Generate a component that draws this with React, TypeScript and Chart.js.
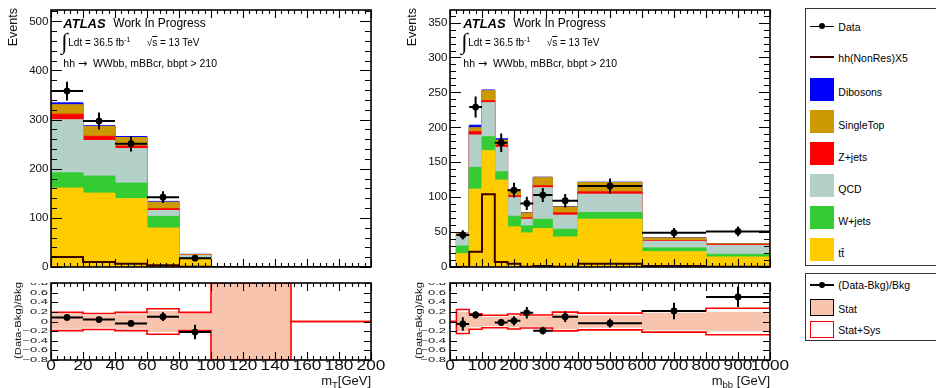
import React, { useEffect, useRef } from "react";
import { Chart, registerables } from "chart.js";

Chart.register(...registerables);

const FONT = "'Liberation Sans', Arial, Helvetica, sans-serif";

/* ---------------- m_T panel (left) ---------------- */
const MT_EDGES = [0, 20, 40, 60, 80, 100, 150, 200];
const MT_TTBAR = [160.6, 150.4, 139.0, 79.3, 17.0, 0, 0];
const MT_WJETS = [31.1, 34.6, 31.7, 23.7, 2.0, 0, 0];
const MT_QCD = [107.8, 72.5, 70.3, 12.0, 4.5, 0, 0];
const MT_ZJETS = [11.5, 8.5, 5.0, 3.6, 0.5, 0, 0];
const MT_SINGLETOP = [19.0, 20.0, 17.5, 13.4, 1.5, 0, 0];
const MT_DIBOSONS = [4.0, 1.5, 2.0, 1.5, 0.3, 0, 0];
const MT_SIGNAL_X5 = [20.3, 10.0, 6.8, 3.4, 0.7, 0, 0];
const MT_DATA = [358, 297, 251, 142, 18, null, null];
const MT_DATA_ERR = [19, 17.2, 15.8, 11.9, 4.2, null, null];
const MT_RATIO = [0.084, 0.04, -0.04, 0.1, -0.22, null, null];
const MT_RATIO_ERR = [0.057, 0.06, 0.06, 0.09, 0.15, null, null];
const MT_STAT = [0.15, 0.13, 0.15, 0.22, 0.17, 0.8, 0];
const MT_SYS = [0.19, 0.165, 0.19, 0.265, 0.19, 0.8, 0];
const MT_Y_TICKS = [0, 100, 200, 300, 400, 500];
const MT_X_TICKS = [0, 20, 40, 60, 80, 100, 120, 140, 160, 180, 200];
const MT_Y_MAX = 523;

/* ---------------- m_bb panel (right) ---------------- */
const MBB_EDGES = [0, 20, 60, 100, 140, 180, 220, 260, 320, 400, 600, 800, 1000];
const MBB_TTBAR = [0, 19, 111.5, 166.4, 124.4, 57.4, 48.8, 55, 43, 68.4, 22, 14.3];
const MBB_WJETS = [0, 11, 31.1, 20.1, 11.9, 15.3, 10, 13.4, 11, 9.6, 5.3, 3.9];
const MBB_QCD = [0, 15, 46.4, 48.8, 35, 26.9, 9.6, 45, 20.2, 26.3, 9.5, 12.8];
const MBB_ZJETS = [0, 1, 4.7, 2.7, 3.3, 2.3, 1.9, 2.9, 3.3, 3.3, 1, 1.5];
const MBB_SINGLETOP = [0, 2, 5.7, 14.5, 7.2, 8.1, 7.2, 12, 8.5, 13.4, 3.8, 0.8];
const MBB_DIBOSONS = [0, 0.5, 3.6, 1, 1.8, 0.5, 0.3, 0.3, 0.5, 0.5, 0.2, 0.1];
const MBB_SIGNAL_X5 = [0, 0, 22, 104, 7, 4.8, 0.3, 1.4, 0.5, 4.8, 1.5, 0.5];
const MBB_DATA = [null, 46, 229, null, 178, 110, 91, 103, 95, 116, 49, 51];
const MBB_DATA_ERR = [null, 6.8, 15.1, null, 13.3, 10.5, 9.5, 10.1, 9.7, 10.8, 7, 7.1];
const MBB_RATIO = [null, -0.05, 0.136, null, -0.02, 0.014, 0.18, -0.19, 0.1, -0.034, 0.218, 0.51];
const MBB_RATIO_ERR = [null, 0.14, 0.075, null, 0.073, 0.095, 0.12, 0.08, 0.11, 0.09, 0.17, 0.21];
const MBB_STAT = [0, 0.2, 0.12, 0.1, 0.1, 0.12, 0.11, 0.11, 0.16, 0.13, 0.18, 0.2];
const MBB_SYS = [0, 0.25, 0.16, 0.13, 0.13, 0.155, 0.135, 0.135, 0.195, 0.175, 0.22, 0.275];
const MBB_Y_TICKS = [0, 50, 100, 150, 200, 250, 300, 350];
const MBB_X_TICKS = [0, 100, 200, 300, 400, 500, 600, 700, 800, 900, 1000];
const MBB_Y_MAX = 368;

const RATIO_Y_TICKS = [-0.8, -0.6, -0.4, -0.2, 0, 0.2, 0.4, 0.6, 0.8];

const LEGEND_LABELS = ["Data", "hh(NonRes)X5", "Dibosons", "SingleTop", "Z+jets", "QCD", "W+jets", "tt\u0304"];
const RATIO_LEGEND_LABELS = ["(Data-Bkg)/Bkg", "Stat", "Stat+Sys"];

/* ---------------- colours ---------------- */
const C_TTBAR = "#ffcc00";
const C_WJETS = "#33cc33";
const C_QCD = "#b3d1c9";
const C_ZJETS = "#ff0000";
const C_SINGLETOP = "#cc9900";
const C_DIBOSONS = "#0000ff";
const C_SIGNAL = "#3a0000";
const C_STAT = "#f9c4ad";
const C_SYS = "#ff0000";
const STACK_COLORS = [C_TTBAR, C_WJETS, C_QCD, C_ZJETS, C_SINGLETOP, C_DIBOSONS];

/* ---------------- helpers ---------------- */
type Num = number | null;

function histPoints(edges: number[], values: number[]) {
  const pts = values.map((v, i) => ({ x: edges[i], y: v }));
  pts.push({ x: edges[edges.length - 1], y: values[values.length - 1] });
  return pts;
}
function stackTops(components: number[][]) {
  const tops: number[][] = [];
  let acc = components[0].map(() => 0);
  for (const c of components) {
    acc = acc.map((a, i) => a + c[i]);
    tops.push(acc.slice());
  }
  return tops;
}
function centers(edges: number[]) {
  return edges.slice(0, -1).map((e, i) => (e + edges[i + 1]) / 2);
}
function points(edges: number[], values: Num[]) {
  const c = centers(edges);
  const out: { x: number; y: number }[] = [];
  values.forEach((v, i) => {
    if (v !== null) out.push({ x: c[i], y: v });
  });
  return out;
}

type TickSpec = { major: number[]; minorStep: number; majorLen: number; minorLen: number };
type LabelSpec = { values: number[]; fmt: (v: number) => string; size: number; sx: number; sy: number; gap: number; clipTop?: boolean };
type PanelStyle = {
  x: TickSpec;
  y: TickSpec;
  yLabels: LabelSpec;
  xLabels?: LabelSpec;
  yTitle: { text: string; cx: number; endY: number; size: number; stretch: number };
  xTitle?: { main: string; sub: string; rest: string; size: number; subSize: number; below: number };
  errors: { datasetIndex: number; edges: number[]; values: Num[]; errs: Num[] };
};

function tickList(spec: TickSpec, min: number, max: number) {
  const out: { v: number; major: boolean }[] = [];
  if (!spec.minorStep) {
    spec.major.forEach((v) => out.push({ v, major: true }));
    return out;
  }
  const start = spec.major[0];
  const step = spec.minorStep;
  const nDown = Math.floor((start - min) / step + 1e-6);
  const nUp = Math.floor((max - start) / step + 1e-6);
  for (let k = -nDown; k <= nUp; k++) {
    const v = start + k * step;
    out.push({ v, major: spec.major.some((m) => Math.abs(m - v) < step * 1e-3) });
  }
  return out;
}

function rootPlugin(style: PanelStyle) {
  return {
    id: "rootStyle",
    beforeDatasetDraw(chart: any, args: any) {
      const e = style.errors;
      if (args.index !== e.datasetIndex) return;
      const ctx = chart.ctx;
      const xs = chart.scales.x;
      const ys = chart.scales.y;
      const a = chart.chartArea;
      ctx.save();
      ctx.beginPath();
      ctx.rect(a.left, a.top, a.right - a.left, a.bottom - a.top);
      ctx.clip();
      ctx.strokeStyle = "#000";
      ctx.lineWidth = 2;
      e.values.forEach((v, i) => {
        const err = e.errs[i];
        if (v === null || err === null) return;
        const x0 = xs.getPixelForValue(e.edges[i]);
        const x1 = xs.getPixelForValue(e.edges[i + 1]);
        const xc = xs.getPixelForValue((e.edges[i] + e.edges[i + 1]) / 2);
        const y = ys.getPixelForValue(v);
        ctx.beginPath();
        ctx.moveTo(x0, y);
        ctx.lineTo(x1, y);
        ctx.moveTo(xc, ys.getPixelForValue(v - err));
        ctx.lineTo(xc, ys.getPixelForValue(v + err));
        ctx.stroke();
      });
      ctx.restore();
    },
    afterDraw(chart: any) {
      const ctx = chart.ctx;
      const xs = chart.scales.x;
      const ys = chart.scales.y;
      const a = chart.chartArea;
      ctx.save();
      // frame
      ctx.strokeStyle = "#000";
      ctx.lineWidth = 1.6;
      ctx.strokeRect(a.left, a.top, a.right - a.left, a.bottom - a.top);
      // ticks
      ctx.lineWidth = 1.1;
      ctx.beginPath();
      tickList(style.y, ys.min, ys.max).forEach(({ v, major }) => {
        const p = Math.round(ys.getPixelForValue(v)) + 0.5;
        const len = major ? style.y.majorLen : style.y.minorLen;
        ctx.moveTo(a.left, p);
        ctx.lineTo(a.left + len, p);
        ctx.moveTo(a.right, p);
        ctx.lineTo(a.right - len, p);
      });
      tickList(style.x, xs.min, xs.max).forEach(({ v, major }) => {
        const p = Math.round(xs.getPixelForValue(v)) + 0.5;
        const len = major ? style.x.majorLen : style.x.minorLen;
        ctx.moveTo(p, a.bottom);
        ctx.lineTo(p, a.bottom - len);
        ctx.moveTo(p, a.top);
        ctx.lineTo(p, a.top + len);
      });
      ctx.stroke();
      ctx.fillStyle = "#111";
      // y labels
      const yl = style.yLabels;
      ctx.save();
      if (yl.clipTop) {
        ctx.beginPath();
        ctx.rect(0, a.top, a.left, chart.height - a.top);
        ctx.clip();
      }
      ctx.font = `${yl.size}px ${FONT}`;
      ctx.textAlign = "right";
      ctx.textBaseline = "middle";
      yl.values.forEach((v) => {
        ctx.save();
        ctx.translate(a.left - yl.gap, ys.getPixelForValue(v));
        ctx.scale(yl.sx, yl.sy);
        ctx.fillText(yl.fmt(v), 0, 0);
        ctx.restore();
      });
      ctx.restore();
      // x labels
      const xl = style.xLabels;
      if (xl) {
        ctx.font = `${xl.size}px ${FONT}`;
        ctx.textAlign = "center";
        ctx.textBaseline = "middle";
        xl.values.forEach((v) => {
          ctx.save();
          ctx.translate(xs.getPixelForValue(v), a.bottom + xl.gap);
          ctx.scale(xl.sx, xl.sy);
          ctx.fillText(xl.fmt(v), 0, 0);
          ctx.restore();
        });
      }
      // y title
      const yt = style.yTitle;
      ctx.save();
      ctx.translate(yt.cx, yt.endY);
      ctx.rotate(-Math.PI / 2);
      ctx.scale(yt.stretch, 1);
      ctx.font = `${yt.size}px ${FONT}`;
      ctx.textAlign = "right";
      ctx.textBaseline = "middle";
      ctx.fillText(yt.text, 0, 0);
      ctx.restore();
      // x title
      const xt = style.xTitle;
      if (xt) {
        const base = a.bottom + xt.below;
        ctx.textBaseline = "alphabetic";
        ctx.textAlign = "right";
        ctx.font = `${xt.size}px ${FONT}`;
        let x = a.right;
        ctx.fillText(xt.rest, x, base);
        x -= ctx.measureText(xt.rest).width;
        ctx.font = `${xt.subSize}px ${FONT}`;
        ctx.fillText(xt.sub, x, base + 3);
        x -= ctx.measureText(xt.sub).width;
        ctx.font = `${xt.size}px ${FONT}`;
        ctx.fillText(xt.main, x, base);
      }
      ctx.restore();
    },
  };
}

const baseOptions = (xmax: number, ymin: number, ymax: number, padding: any) => ({
  animation: false,
  responsive: false,
  events: [],
  layout: { padding },
  scales: {
    x: { type: "linear", min: 0, max: xmax, display: false },
    y: { type: "linear", min: ymin, max: ymax, display: false },
  },
  plugins: { legend: { display: false }, tooltip: { enabled: false } },
});

type MainSpec = {
  edges: number[];
  comps: number[][];
  signal: number[];
  data: Num[];
  dataErr: Num[];
  xmax: number;
  ymax: number;
  padding: any;
  style: Omit<PanelStyle, "errors">;
};

function buildMain(canvas: HTMLCanvasElement, s: MainSpec) {
  const tops = stackTops(s.comps);
  const datasets: any[] = tops.map((t, i) => ({
    data: histPoints(s.edges, t),
    stepped: true,
    fill: i === 0 ? "origin" : "-1",
    backgroundColor: STACK_COLORS[i],
    borderColor: STACK_COLORS[i],
    borderWidth: 1,
    pointRadius: 0,
    order: 2,
  }));
  datasets.push({
    data: histPoints(s.edges, s.signal),
    stepped: true,
    fill: false,
    borderColor: C_SIGNAL,
    borderWidth: 2,
    pointRadius: 0,
    order: 1,
  });
  datasets.push({
    data: points(s.edges, s.data),
    showLine: false,
    pointRadius: 3.4,
    pointBackgroundColor: "#000",
    pointBorderColor: "#000",
    pointBorderWidth: 0,
    order: 0,
  });
  const style: PanelStyle = {
    ...s.style,
    errors: { datasetIndex: datasets.length - 1, edges: s.edges, values: s.data, errs: s.dataErr },
  };
  return new Chart(canvas, {
    type: "line",
    data: { datasets },
    options: baseOptions(s.xmax, 0, s.ymax, s.padding) as any,
    plugins: [rootPlugin(style) as any],
  });
}

type RatioSpec = {
  edges: number[];
  ratio: Num[];
  ratioErr: Num[];
  stat: number[];
  sys: number[];
  xmax: number;
  padding: any;
  style: Omit<PanelStyle, "errors">;
};

function buildRatio(canvas: HTMLCanvasElement, s: RatioSpec) {
  const clear = "rgba(0,0,0,0)";
  const datasets: any[] = [
    { data: histPoints(s.edges, s.stat.map((v) => -v)), stepped: true, fill: false, borderColor: clear, borderWidth: 1, pointRadius: 0, order: 4 },
    { data: histPoints(s.edges, s.stat), stepped: true, fill: "-1", backgroundColor: C_STAT, borderColor: clear, borderWidth: 1, pointRadius: 0, order: 3 },
    { data: histPoints(s.edges, s.sys), stepped: true, fill: false, borderColor: C_SYS, borderWidth: 1.6, pointRadius: 0, order: 2 },
    { data: histPoints(s.edges, s.sys.map((v) => -v)), stepped: true, fill: false, borderColor: C_SYS, borderWidth: 1.6, pointRadius: 0, order: 2 },
    { data: points(s.edges, s.ratio), showLine: false, pointRadius: 3.4, pointBackgroundColor: "#000", pointBorderColor: "#000", pointBorderWidth: 0, order: 0 },
  ];
  const style: PanelStyle = {
    ...s.style,
    errors: { datasetIndex: 4, edges: s.edges, values: s.ratio, errs: s.ratioErr },
  };
  return new Chart(canvas, {
    type: "line",
    data: { datasets },
    options: baseOptions(s.xmax, -0.8, 0.8, s.padding) as any,
    plugins: [rootPlugin(style) as any],
  });
}

const intFmt = (v: number) => String(v);
const ratioFmt = (v: number) => (Math.abs(v) < 1e-9 ? "0" : (v < 0 ? "\u2212" : "") + Math.abs(v).toFixed(1));

function ChartBox(props: { left: number; top: number; width: number; height: number; build: (c: HTMLCanvasElement) => Chart }) {
  const ref = useRef<HTMLCanvasElement>(null);
  useEffect(() => {
    const chart = props.build(ref.current as HTMLCanvasElement);
    return () => chart.destroy();
  }, []);
  return (
    <canvas
      ref={ref}
      width={props.width}
      height={props.height}
      style={{ position: "absolute", left: props.left, top: props.top, width: props.width, height: props.height }}
    />
  );
}

function AtlasLabel({ x }: { x: number }) {
  const abs = (l: number, t: number, extra: any) => ({ position: "absolute" as const, left: l, top: t, whiteSpace: "pre" as const, fontFamily: FONT, color: "#000", ...extra });
  return (
    <>
      <div style={abs(x, 16.5, { fontSize: 13, lineHeight: "13px", fontWeight: "bold", fontStyle: "italic" })}>ATLAS</div>
      <div style={abs(x + 50, 16.8, { fontSize: 12, lineHeight: "12px" })}>Work In Progress</div>
      <div style={abs(x - 2, 29, { fontSize: 23, lineHeight: "25px", fontFamily: "'Liberation Serif', 'DejaVu Serif', serif" })}>{"\u222B"}</div>
      <div style={abs(x + 5, 38, { fontSize: 10, lineHeight: "10px" })}>
        Ldt = 36.5 fb<span style={{ fontSize: 7, position: "relative", top: -4 }}>-1</span>
      </div>
      <div style={abs(x + 83.4, 38, { fontSize: 10, lineHeight: "10px" })}>
        {"\u221A"}
        <span style={{ textDecoration: "overline" }}>s</span> = 13 TeV
      </div>
      <div style={abs(x, 58.2, { fontSize: 10.5, lineHeight: "10.5px" })}>
        {"hh "}
        <span style={{ fontFamily: "'DejaVu Sans', sans-serif", fontSize: 11 }}>{"\u2192"}</span>
        {"  WWbb, mBBcr, bbpt > 210"}
      </div>
    </>
  );
}

function Legend() {
  const SW_X = 809.7;
  const TXT_X = 838.3;
  const rowY = (i: number) => (i === 0 ? 26.3 : 24.8 + 32.15 * i);
  const text = (label: string, cy: number) => (
    <div key={"t" + label} style={{ position: "absolute", left: TXT_X, top: cy - 5.2, fontSize: 10.5, lineHeight: "10.5px", fontFamily: FONT, whiteSpace: "pre", color: "#000" }}>
      {label}
    </div>
  );
  const marker = (cy: number, key: string) => (
    <React.Fragment key={key}>
      <div style={{ position: "absolute", left: SW_X, top: cy - 0.75, width: 24, height: 1.5, background: "#000" }} />
      <div style={{ position: "absolute", left: SW_X + 9, top: cy - 3, width: 6, height: 6, borderRadius: 3, background: "#000" }} />
    </React.Fragment>
  );
  const legendColors = [null, C_SIGNAL, C_DIBOSONS, C_SINGLETOP, C_ZJETS, C_QCD, C_WJETS, C_TTBAR];
  const items: any[] = [];
  LEGEND_LABELS.forEach((label, i) => {
    const cy = rowY(i);
    if (i === 0) {
      items.push(marker(cy, "m0"));
      items.push(text(label, cy + 1));
    } else if (i === 1) {
      items.push(<div key="sig" style={{ position: "absolute", left: SW_X, top: cy - 0.75, width: 24, height: 1.5, background: legendColors[i] as string }} />);
      items.push(text(label, cy + 1));
    } else {
      items.push(<div key={"b" + i} style={{ position: "absolute", left: SW_X, top: cy - 11.5, width: 24.6, height: 23, background: legendColors[i] as string }} />);
      items.push(text(label, cy + 3.5));
    }
  });
  const r0 = 285;
  const r1 = 307.7;
  const r2 = 329.3;
  return (
    <>
      <div style={{ position: "absolute", left: 805, top: 8.3, width: 150, height: 257.4, border: "1px solid #333", boxSizing: "border-box" }} />
      {items}
      <div style={{ position: "absolute", left: 805, top: 272.7, width: 150, height: 68, border: "1px solid #333", boxSizing: "border-box" }} />
      {marker(r0, "m1")}
      {text(RATIO_LEGEND_LABELS[0], r0 + 0.5)}
      <div style={{ position: "absolute", left: SW_X, top: r1 - 8.3, width: 24.6, height: 16.6, background: C_STAT, border: "1.5px solid #000", boxSizing: "border-box" }} />
      {text(RATIO_LEGEND_LABELS[1], r1 + 1)}
      <div style={{ position: "absolute", left: SW_X, top: r2 - 8.3, width: 24.6, height: 16.6, background: "#fff", border: "1.5px solid " + C_SYS, boxSizing: "border-box" }} />
      {text(RATIO_LEGEND_LABELS[2], r2 + 1)}
    </>
  );
}

export default function App() {
  const mainLeft = (c: HTMLCanvasElement) =>
    buildMain(c, {
      edges: MT_EDGES,
      comps: [MT_TTBAR, MT_WJETS, MT_QCD, MT_ZJETS, MT_SINGLETOP, MT_DIBOSONS],
      signal: MT_SIGNAL_X5,
      data: MT_DATA,
      dataErr: MT_DATA_ERR,
      xmax: 200,
      ymax: MT_Y_MAX,
      padding: { left: 51, right: 19, top: 10, bottom: 12 },
      style: {
        x: { major: MT_X_TICKS, minorStep: 4, majorLen: 8, minorLen: 4 },
        y: { major: MT_Y_TICKS, minorStep: 20, majorLen: 11, minorLen: 6 },
        yLabels: { values: MT_Y_TICKS, fmt: intFmt, size: 11.6, sx: 1, sy: 1, gap: 2.5 },
        yTitle: { text: "Events", cx: 13.5, endY: 8, size: 12.5, stretch: 1 },
      },
    });
  const mainRight = (c: HTMLCanvasElement) =>
    buildMain(c, {
      edges: MBB_EDGES,
      comps: [MBB_TTBAR, MBB_WJETS, MBB_QCD, MBB_ZJETS, MBB_SINGLETOP, MBB_DIBOSONS],
      signal: MBB_SIGNAL_X5,
      data: MBB_DATA,
      dataErr: MBB_DATA_ERR,
      xmax: 1000,
      ymax: MBB_Y_MAX,
      padding: { left: 70, right: 30, top: 10, bottom: 12 },
      style: {
        x: { major: MBB_X_TICKS, minorStep: 20, majorLen: 8, minorLen: 4 },
        y: { major: MBB_Y_TICKS, minorStep: 10, majorLen: 11, minorLen: 6 },
        yLabels: { values: MBB_Y_TICKS, fmt: intFmt, size: 11.6, sx: 1, sy: 1, gap: 2.5 },
        yTitle: { text: "Events", cx: 33, endY: 8, size: 12.5, stretch: 1 },
      },
    });
  const ratioLeft = (c: HTMLCanvasElement) =>
    buildRatio(c, {
      edges: MT_EDGES,
      ratio: MT_RATIO,
      ratioErr: MT_RATIO_ERR,
      stat: MT_STAT,
      sys: MT_SYS,
      xmax: 200,
      padding: { left: 51, right: 19, top: 2, bottom: 28 },
      style: {
        x: { major: MT_X_TICKS, minorStep: 4, majorLen: 8, minorLen: 4 },
        y: { major: RATIO_Y_TICKS, minorStep: 0, majorLen: 7, minorLen: 4 },
        yLabels: { values: RATIO_Y_TICKS, fmt: ratioFmt, size: 13, sx: 1, sy: 0.56, gap: 3, clipTop: true },
        xLabels: { values: MT_X_TICKS, fmt: intFmt, size: 15, sx: 1.15, sy: 1, gap: 6.3 },
        yTitle: { text: "(Data-Bkg)/Bkg", cx: 19, endY: 3, size: 9, stretch: 1.25 },
        xTitle: { main: "m", sub: "T", rest: "[GeV]", size: 13, subSize: 9.5, below: 25 },
      },
    });
  const ratioRight = (c: HTMLCanvasElement) =>
    buildRatio(c, {
      edges: MBB_EDGES,
      ratio: MBB_RATIO,
      ratioErr: MBB_RATIO_ERR,
      stat: MBB_STAT,
      sys: MBB_SYS,
      xmax: 1000,
      padding: { left: 70, right: 30, top: 2, bottom: 28 },
      style: {
        x: { major: MBB_X_TICKS, minorStep: 20, majorLen: 8, minorLen: 4 },
        y: { major: RATIO_Y_TICKS, minorStep: 0, majorLen: 7, minorLen: 4 },
        yLabels: { values: RATIO_Y_TICKS, fmt: ratioFmt, size: 13, sx: 1, sy: 0.56, gap: 4, clipTop: true },
        xLabels: { values: MBB_X_TICKS, fmt: intFmt, size: 15, sx: 1.15, sy: 1, gap: 6.3 },
        yTitle: { text: "(Data-Bkg)/Bkg", cx: 40, endY: 3, size: 9, stretch: 1.25 },
        xTitle: { main: "m", sub: "bb", rest: " [GeV]", size: 13, subSize: 9.5, below: 25 },
      },
    });

  return (
    <div style={{ position: "fixed", left: 0, top: 0, width: 936, height: 388, overflow: "hidden", background: "#fff" }}>
      <ChartBox left={0} top={0} width={390} height={279} build={mainLeft} />
      <ChartBox left={0} top={279} width={390} height={109} build={ratioLeft} />
      <ChartBox left={380} top={0} width={420} height={279} build={mainRight} />
      <ChartBox left={380} top={279} width={420} height={109} build={ratioRight} />
      <AtlasLabel x={63.3} />
      <AtlasLabel x={463.3} />
      <Legend />
    </div>
  );
}
